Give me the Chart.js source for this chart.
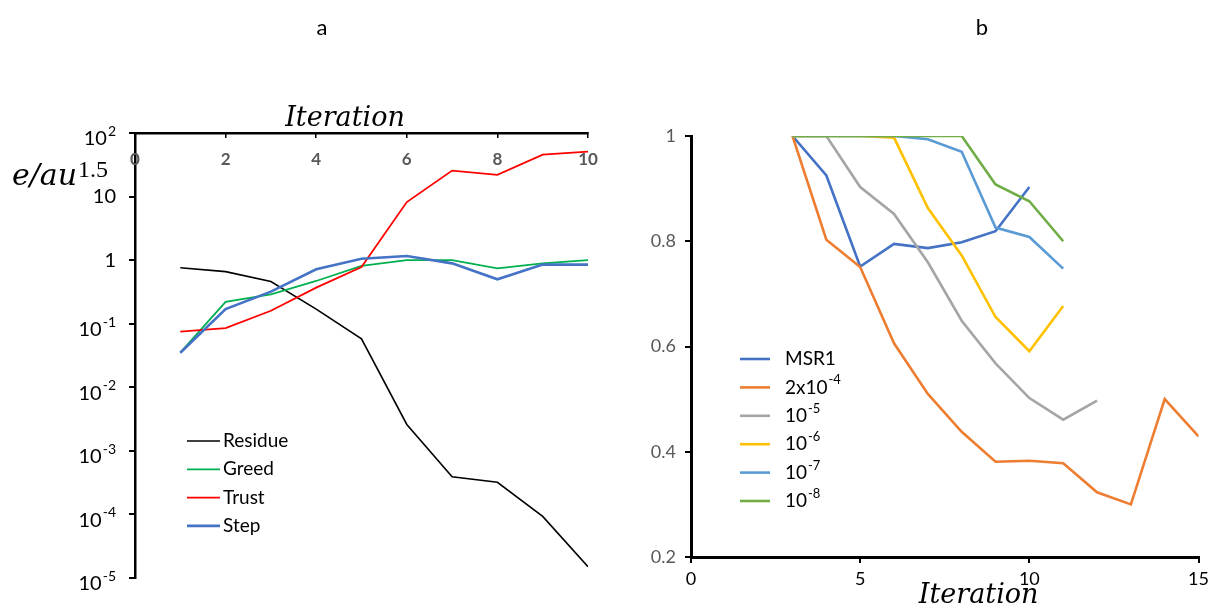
<!DOCTYPE html>
<html>
<head>
<meta charset="utf-8">
<script src="https://cdn.jsdelivr.net/npm/chart.js@4.4.1/dist/chart.umd.min.js"></script>
<style>
  html, body { margin: 0; padding: 0; background: #fff; }
  #wrap { position: relative; width: 1214px; height: 612px; overflow: hidden; }
  .box { position: absolute; top: 0; width: 607px; height: 612px; }
</style>
</head>
<body>
<div id="wrap">
  <div class="box" style="left:0"><canvas id="chartA"></canvas></div>
  <div class="box" style="left:607px"><canvas id="chartB"></canvas></div>
</div>
<script>
// ---- chart a data (log scale) ----
const iterA = [1, 2, 3, 4, 5, 6, 7, 8, 9, 10];
const residue = [0.76, 0.66, 0.46, 0.17, 0.058, 0.0026, 0.00039, 0.00032, 0.000093, 0.000015];
const greed = [0.035, 0.22, 0.29, 0.47, 0.81, 1.0, 1.0, 0.74, 0.89, 1.0];
const trust = [0.075, 0.085, 0.16, 0.37, 0.78, 8.2, 25.6, 21.9, 45.7, 51];
const step = [0.035, 0.17, 0.32, 0.72, 1.05, 1.16, 0.89, 0.50, 0.85, 0.85];
const namesA = ['Residue', 'Greed', 'Trust', 'Step'];
const colorsA = ['#000000', '#00b050', '#ff0000', '#4472c4'];
const xTicksA = [0, 2, 4, 6, 8, 10];
const yTicksA = [1e-5, 1e-4, 1e-3, 1e-2, 1e-1, 1, 10, 100];
const yTickBaseA = ['10', '10', '10', '10', '10', '1', '10', '10'];
const yTickExpA = ['-5', '-4', '-3', '-2', '-1', '', '', '2'];

// ---- chart b data ----
const firstIterB = 3;
const msr1 = [1, 0.925, 0.752, 0.795, 0.787, 0.798, 0.819, 0.903];
const tol2e4 = [1, 0.803, 0.751, 0.606, 0.51, 0.438, 0.381, 0.383, 0.378, 0.323, 0.30, 0.50, 0.429];
const tol1e5 = [1, 1, 0.903, 0.852, 0.76, 0.649, 0.568, 0.502, 0.461, 0.497];
const tol1e6 = [1, 1, 1, 0.997, 0.863, 0.773, 0.656, 0.591, 0.677];
const tol1e7 = [1, 1, 1, 1, 0.994, 0.97, 0.826, 0.808, 0.748];
const tol1e8 = [1, 1, 1, 1, 1, 1, 0.908, 0.876, 0.80];
const legendBaseB = ['MSR1', '2x10', '10', '10', '10', '10'];
const legendExpB = ['', '-4', '-5', '-6', '-7', '-8'];
const colorsB = ['#4472c4', '#ed7d31', '#a5a5a5', '#ffc000', '#5b9bd5', '#70ad47'];

const FONT = 'Lato, "Open Sans", sans-serif';
const SERIF = '"DejaVu Serif", "Liberation Serif", serif';

function drawPower(ctx, base, exp, x, y, size, align, color) {
  const es = Math.round(size * 0.68);
  ctx.font = size + 'px ' + FONT;
  const wb = ctx.measureText(base).width;
  ctx.font = es + 'px ' + FONT;
  const we = exp ? ctx.measureText(exp).width + 1 : 0;
  const left = align === 'right' ? x - wb - we : x;
  ctx.fillStyle = color;
  ctx.textAlign = 'left';
  ctx.textBaseline = 'middle';
  ctx.font = size + 'px ' + FONT;
  ctx.fillText(base, left, y);
  if (exp) {
    ctx.font = es + 'px ' + FONT;
    ctx.fillText(exp, left + wb + 1, y - size * 0.38);
  }
}

function lineSet(label, xs, ys, color, width, order) {
  return {
    label: label,
    data: ys.map((v, i) => ({ x: xs[i], y: v })),
    borderColor: color,
    backgroundColor: color,
    borderWidth: width,
    pointRadius: 0,
    tension: 0,
    fill: false,
    order: order
  };
}

// ---------- chart a ----------
const decorA = {
  id: 'decorA',
  afterDraw(chart) {
    const { ctx, scales: { x, y } } = chart;
    ctx.save();
    // x tick labels (inside, below the top axis)
    ctx.font = 'bold 17px ' + FONT;
    ctx.fillStyle = '#595959';
    ctx.textAlign = 'center';
    ctx.textBaseline = 'middle';
    xTicksA.forEach(v => ctx.fillText(String(v), x.getPixelForValue(v), y.top + 27));
    // y tick labels
    yTicksA.forEach((v, i) => {
      const py = y.getPixelForValue(v) + (yTickExpA[i] ? 6 : 0);
      drawPower(ctx, yTickBaseA[i], yTickExpA[i], y.right - 19, py, 20, 'right', '#000');
    });
    // axis titles
    ctx.fillStyle = '#000';
    ctx.font = 'italic 27px ' + SERIF;
    ctx.textAlign = 'center';
    ctx.textBaseline = 'alphabetic';
    ctx.fillText('Iteration', 345, y.top - 7);
    ctx.textAlign = 'left';
    ctx.font = 'italic 30px ' + SERIF;
    ctx.fillText('e/au', 12, 185);
    const w = ctx.measureText('e/au').width;
    ctx.font = '24px "Liberation Serif", serif';
    ctx.fillText('1.5', 12 + w + 1, 177);
    // legend
    chart.data.datasets.forEach((ds, i) => {
      const ly = 441 + i * 28.3;
      ctx.strokeStyle = ds.borderColor;
      ctx.lineWidth = ds.borderWidth;
      ctx.beginPath();
      ctx.moveTo(187, ly);
      ctx.lineTo(220, ly);
      ctx.stroke();
      ctx.fillStyle = '#000';
      ctx.font = '19px ' + FONT;
      ctx.textAlign = 'left';
      ctx.textBaseline = 'middle';
      ctx.fillText(ds.label, 223, ly);
    });
    // panel letter
    ctx.font = '22px ' + FONT;
    ctx.textAlign = 'center';
    ctx.textBaseline = 'middle';
    ctx.fillText('a', 322, 28);
    ctx.restore();
  }
};

new Chart(document.getElementById('chartA'), {
  type: 'line',
  data: {
    datasets: [
      lineSet(namesA[0], iterA, residue, colorsA[0], 1.6, 4),
      lineSet(namesA[1], iterA, greed, colorsA[1], 1.8, 3),
      lineSet(namesA[2], iterA, trust, colorsA[2], 1.8, 2),
      lineSet(namesA[3], iterA, step, colorsA[3], 2.6, 1)
    ]
  },
  options: {
    responsive: true,
    maintainAspectRatio: false,
    animation: false,
    layout: { padding: { left: 0, right: 19, top: 123, bottom: 34 } },
    plugins: { legend: { display: false }, tooltip: { enabled: false } },
    scales: {
      x: {
        type: 'linear',
        position: 'top',
        min: 0,
        max: 10,
        afterBuildTicks: s => { s.ticks = xTicksA.map(v => ({ value: v })); },
        ticks: { display: false },
        grid: { drawOnChartArea: false, drawTicks: true, tickLength: -5, color: '#000', lineWidth: 1.5 },
        border: { color: '#000', width: 2.5 },
        afterFit: s => { s.height = 10; }
      },
      y: {
        type: 'logarithmic',
        min: 1e-5,
        max: 100,
        afterBuildTicks: s => { s.ticks = yTicksA.map(v => ({ value: v })); },
        ticks: { display: false },
        grid: { drawOnChartArea: false, drawTicks: true, tickLength: 6, color: '#000', lineWidth: 2 },
        border: { color: '#000', width: 2.5 },
        afterFit: s => { s.width = 135; }
      }
    }
  },
  plugins: [decorA]
});

// ---------- chart b ----------
const decorB = {
  id: 'decorB',
  afterDraw(chart) {
    const { ctx, scales: { x } } = chart;
    ctx.save();
    // legend
    chart.data.datasets.forEach((ds, i) => {
      const ly = 359 + i * 28.4;
      ctx.strokeStyle = ds.borderColor;
      ctx.lineWidth = 2.6;
      ctx.beginPath();
      ctx.moveTo(133, ly);
      ctx.lineTo(163, ly);
      ctx.stroke();
      drawPower(ctx, legendBaseB[i], legendExpB[i], 178, ly, 19, 'left', '#000');
    });
    // axis title
    ctx.fillStyle = '#000';
    ctx.font = 'italic 27px ' + SERIF;
    ctx.textAlign = 'center';
    ctx.textBaseline = 'alphabetic';
    ctx.fillText('Iteration', x.getPixelForValue(8.5), 603);
    // panel letter
    ctx.font = '22px ' + FONT;
    ctx.textBaseline = 'middle';
    ctx.fillText('b', 375, 28);
    ctx.restore();
  }
};

const seriesB = [msr1, tol2e4, tol1e5, tol1e6, tol1e7, tol1e8];
new Chart(document.getElementById('chartB'), {
  type: 'line',
  data: {
    datasets: seriesB.map((s, i) => lineSet(
      legendBaseB[i] + legendExpB[i],
      s.map((v, k) => firstIterB + k),
      s,
      colorsB[i],
      2.6,
      seriesB.length - i
    ))
  },
  options: {
    responsive: true,
    maintainAspectRatio: false,
    animation: false,
    layout: { padding: { left: 0, right: 13, top: 136, bottom: 25 } },
    plugins: { legend: { display: false }, tooltip: { enabled: false } },
    scales: {
      x: {
        type: 'linear',
        min: 0,
        max: 15,
        ticks: { stepSize: 5, color: '#000', font: { family: FONT, size: 18 }, padding: 5, maxRotation: 0 },
        grid: { drawOnChartArea: false, tickLength: 6, color: '#000', lineWidth: 2 },
        border: { color: '#000', width: 3 },
        afterFit: s => { s.height = 30; }
      },
      y: {
        min: 0.2,
        max: 1,
        ticks: {
          stepSize: 0.2,
          color: '#595959',
          font: { family: FONT, size: 18 },
          padding: 9,
          callback: v => String(Number(v.toFixed(1)))
        },
        grid: { drawOnChartArea: false, tickLength: 6, color: '#000', lineWidth: 2 },
        border: { color: '#000', width: 3 },
        afterFit: s => { s.width = 84; }
      }
    }
  },
  plugins: [decorB]
});
</script>
</body>
</html>
